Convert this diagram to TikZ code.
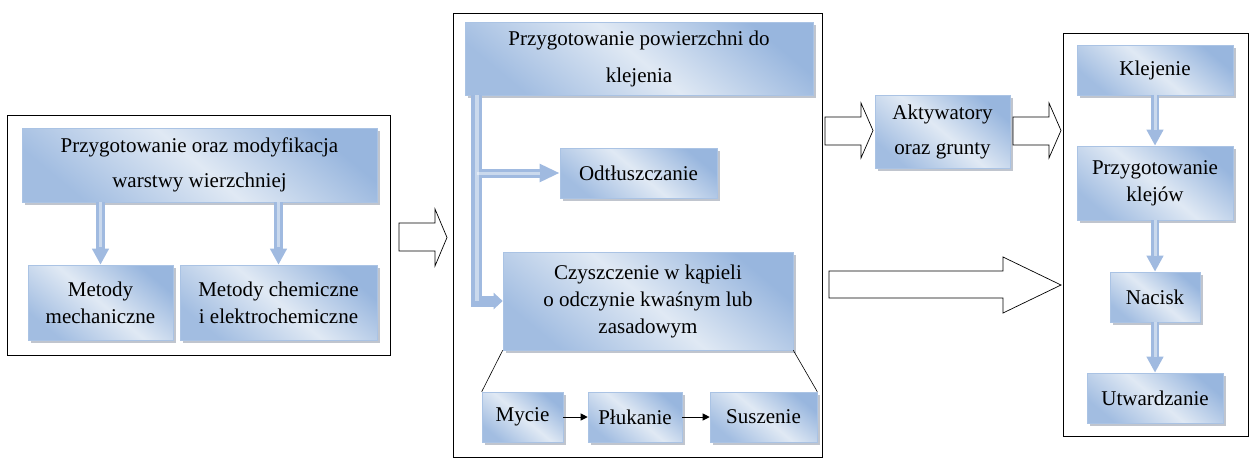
\documentclass[tikz,border=0pt]{standalone}
\usepackage{fontspec}
\setmainfont{Liberation Serif}
\usetikzlibrary{arrows.meta,shadows,calc}
\definecolor{boxdark}{RGB}{152,182,222}
\definecolor{boxlight}{RGB}{224,233,244}
\definecolor{boxedge}{RGB}{170,195,228}
\definecolor{arrowblue}{RGB}{160,186,224}
\definecolor{shadowc}{RGB}{140,150,165}
\tikzset{
  box/.style={draw=boxedge, line width=0.6pt, top color=boxdark, bottom color=boxdark!90, middle color=boxlight, shading angle=-40,
    drop shadow={shadow xshift=2.5pt, shadow yshift=-2.5pt, fill=shadowc, opacity=0.55},
    align=center, inner sep=2pt, font=\fontsize{21}{27}\selectfont, text=black},
  frame/.style={draw=black, line width=0.8pt},
  fat/.style={arrowblue, line width=8.5pt, line cap=butt, line join=miter, -{Triangle[width=16pt,length=16pt]}},
  fatin/.style={white, opacity=0.45, line width=3pt, line cap=butt},
  hollow/.style={draw=black, line width=0.7pt, fill=white, line join=miter},
  thinarr/.style={draw=black, line width=1pt, -{Triangle[width=7pt,length=7pt]}},
  edge/.style={draw=black, line width=0.6pt}
}
\begin{document}
\begin{tikzpicture}[x=1pt,y=-1pt]
\useasboundingbox (0,0) rectangle (1255,475);
% frames
\draw[frame] (7,115) rectangle (390,355);
\draw[frame] (453,13) rectangle (822,457);
\draw[frame] (1063,33) rectangle (1248,436);
% left group
\node[box, minimum width=355pt, minimum height=74pt] (ltop) at (199.5,165) {Przygotowanie oraz modyfikacja\\[8pt]warstwy wierzchniej};
\node[box, minimum width=145pt, minimum height=75pt] (lmech) at (100.5,302.5) {Metody\\mechaniczne};
\node[box, minimum width=197pt, minimum height=75pt] (lchem) at (278.5,302.5) {Metody chemiczne\\i elektrochemiczne};
\draw[fat] (lmech.north |- ltop.south) -- (lmech.north);
\draw[fat] (lchem.north |- ltop.south) -- (lchem.north);
\draw[fatin] (lmech.north |- ltop.south) -- ($(lmech.north)+(0,-18)$);
\draw[fatin] (lchem.north |- ltop.south) -- ($(lchem.north)+(0,-18)$);
% middle group
\node[box, minimum width=348pt, minimum height=73pt] (mtop) at (639,58.5) {Przygotowanie powierzchni do\\[10pt]klejenia};
\node[box, minimum width=157pt, minimum height=50pt] (odt) at (638.5,173) {Odtłuszczanie};
\node[box, minimum width=290pt, minimum height=98pt] (czy) at (648,301) {Czyszczenie w kąpieli\\o odczynie kwaśnym lub\\zasadowym};
\node[box, minimum width=81pt, minimum height=50pt] (myc) at (522.5,417) {Mycie};
\node[box, minimum width=94pt, minimum height=50pt] (pluk) at (635,417) {Płukanie};
\node[box, minimum width=107pt, minimum height=50pt] (susz) at (763.5,417) {Suszenie};
\coordinate (barx) at ($(mtop.south west)+(12,0)$);
\draw[fat, line width=11pt, -{Triangle[width=16pt,length=9pt]}] (barx) |- (czy.west);
\draw[fat, line width=9pt, -{Triangle[width=17pt,length=20pt]}] (barx |- odt.west) -- (odt.west);
\draw[fatin, line width=4pt] (barx) -- (barx |- czy.west);
\draw[fatin] (barx |- odt.west) -- ($(odt.west)+(-20,0)$);
\draw[edge] (czy.south west) -- (myc.north west);
\draw[edge] (czy.south east) -- (susz.north east);
\draw[thinarr] (myc.east) -- (pluk.west);
\draw[thinarr] (pluk.east) -- (susz.west);
% right group
\node[box, minimum width=135pt, minimum height=73pt] (akt) at (942.5,131.5) {Aktywatory\\[8pt]oraz grunty};
\node[box, minimum width=156pt, minimum height=50pt] (klej) at (1155,70) {Klejenie};
\node[box, minimum width=156pt, minimum height=74pt] (przk) at (1155,183) {Przygotowanie\\klejów};
\node[box, minimum width=90pt, minimum height=50pt] (nac) at (1155,297) {Nacisk};
\node[box, minimum width=136pt, minimum height=50pt] (utw) at (1155,398) {Utwardzanie};
\draw[fat] (klej.south) -- (przk.north);
\draw[fat] (przk.south) -- (nac.north);
\draw[fat] (nac.south) -- (utw.north);
\draw[fatin] (klej.south) -- ($(przk.north)+(0,-16)$);
\draw[fatin] (przk.south) -- ($(nac.north)+(0,-16)$);
\draw[fatin] (nac.south) -- ($(utw.north)+(0,-16)$);
% hollow block arrows
\draw[hollow] (399,223) -- (435,223) -- (435,209) -- (447,237.5) -- (435,266) -- (435,251) -- (399,251) -- cycle;
\draw[hollow] (825,117) -- (861,117) -- (861,103) -- (873,130.5) -- (861,158) -- (861,145) -- (825,145) -- cycle;
\draw[hollow] (1013,117) -- (1049,117) -- (1049,103) -- (1061,130.5) -- (1049,158) -- (1049,145) -- (1013,145) -- cycle;
\draw[hollow] (829,271) -- (1003,271) -- (1003,257) -- (1061,285) -- (1003,313) -- (1003,298) -- (829,298) -- cycle;
\end{tikzpicture}
\end{document}
